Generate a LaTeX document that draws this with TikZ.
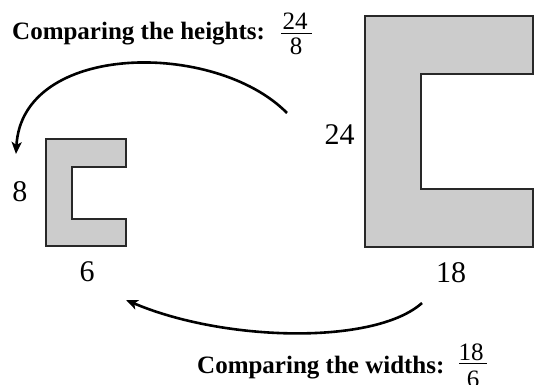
\documentclass[tikz,border=0pt]{standalone}
\usepackage{fontspec}
\setmainfont{Liberation Serif}
\usetikzlibrary{arrows.meta}
\definecolor{shapefill}{RGB}{204,204,204}
\definecolor{edge}{RGB}{40,40,40}
\tikzset{
  shapebox/.style={draw=edge, fill=shapefill, line width=1.8pt, line join=miter},
  dimlabel/.style={font=\fontsize{30}{32}\selectfont, inner sep=0pt},
  caption/.style={font=\fontsize{25}{27}\selectfont\bfseries, inner sep=0pt, anchor=base west},
  fraclabel/.style={font=\fontsize{25}{27}\selectfont, inner sep=0pt},
  fracbar/.style={draw=black, line width=1.3pt},
  curvearrow/.style={draw=black, line width=2.6pt, -{Stealth[length=12pt,width=10pt,inset=3pt]}}
}
\begin{document}
\begin{tikzpicture}[x=1pt,y=-1pt]
\useasboundingbox (0,0) rectangle (535,385);
% big C
\draw[shapebox] (365,16) -- (533,16) -- (533,74) -- (421,74) -- (421,189) -- (533,189) -- (533,247) -- (365,247) -- cycle;
% small C
\draw[shapebox] (46,139) -- (126,139) -- (126,167) -- (72,167) -- (72,219) -- (126,219) -- (126,246) -- (46,246) -- cycle;
% labels
\node[dimlabel] (h24) at (339.5,134.5) {24};
\node[dimlabel] (w18) at (451,272.5) {18};
\node[dimlabel] (h8) at (20,191.5) {8};
\node[dimlabel] (w6) at (87,272) {6};
% captions
\node[caption] (capH) at (12,40) {Comparing the heights:};
\node[fraclabel] (fracHn) at (295,21.5) {24};
\node[fraclabel] (fracHd) at (296,46) {8};
\draw[fracbar] (281,33.3) -- (312,33.3);
\node[caption] (capW) at (197,373.5) {Comparing the widths:};
\node[fraclabel] (fracWn) at (471,352.5) {18};
\node[fraclabel] (fracWd) at (473,379) {6};
\draw[fracbar] (459,363.5) -- (487,363.5);
% arcs
\coordinate (aS) at (287,113);
\coordinate (aE) at (16,154);
\draw[curvearrow] (aS) .. controls (215,40) and (22,42) .. (aE);
\coordinate (bS) at (422,303);
\coordinate (bE) at (126,300);
\draw[curvearrow] (bS) .. controls (375,345) and (225,342) .. (bE);
\end{tikzpicture}
\end{document}
